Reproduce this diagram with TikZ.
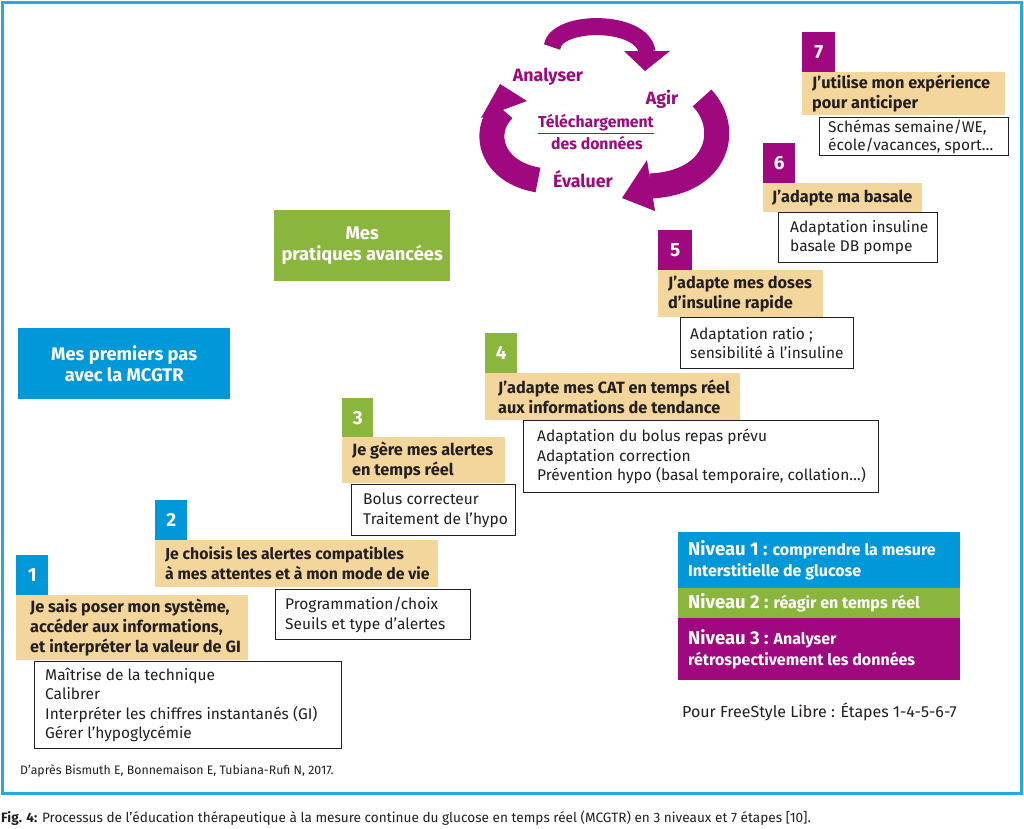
\documentclass[tikz,border=0pt]{standalone}
\usepackage{fontspec}
\setmainfont{Fira Sans}
\definecolor{cblue}{HTML}{0098D8}
\definecolor{cgreen}{HTML}{8BB63E}
\definecolor{cpurple}{HTML}{A0087F}
\definecolor{ctan}{HTML}{F2D69C}
\definecolor{ctext}{HTML}{231F20}
\definecolor{cframe}{HTML}{2AA7E0}
\begin{document}
\begin{tikzpicture}[x=1pt,y=-1pt,
  numbox/.style={anchor=north west, minimum width=33, minimum height=40, inner sep=0, text=white, font=\fontsize{19}{19}\selectfont\bfseries},
  tanbg/.style={anchor=north west, fill=ctan, inner sep=0},
  whitebg/.style={anchor=north west, fill=white, draw=ctext, line width=1.3, inner sep=0},
  tantext/.style={anchor=west, inner sep=0, align=left, text=ctext, font=\fontsize{16.3}{20}\selectfont\bfseries},
  whitetext/.style={anchor=west, inner sep=0, align=left, text=ctext, font=\fontsize{15.5}{19.5}\selectfont},
  bigbox/.style={anchor=north west, inner sep=0, align=center, text=white, font=\fontsize{18.3}{21.5}\selectfont\bfseries},
  legbg/.style={anchor=north west, inner sep=0, minimum width=282},
  legtext/.style={anchor=west, inner sep=0, align=left, text=white, font=\fontsize{16}{20.5}\selectfont\bfseries},
  cyctext/.style={text=cpurple, inner sep=0, font=\fontsize{17.8}{20}\selectfont\bfseries},
  cycsmall/.style={text=cpurple, inner sep=0, font=\fontsize{15.8}{18}\selectfont\bfseries},
  arrowbody/.style={draw=cpurple, line cap=butt},
  arrowhead/.style={fill=cpurple}
]
\useasboundingbox (0,0) rectangle (1024,828);
\fill[white] (0,0) rectangle (1024,828);
\draw[cframe, line width=3] (2,2) rectangle (1021,793);

% cycle
\draw[arrowbody, line width=17] (552,47) .. controls (556,19) and (643,19) .. (647,52);
\fill[arrowhead] (624,51) -- (670,51) -- (645,71) -- cycle;
\draw[arrowbody, line width=25] (702,98) .. controls (731,128) and (719,183) .. (650,186);
\fill[arrowhead] (647,160) -- (655,211) -- (622,198) -- cycle;
\draw[arrowbody, line width=25] (538,180) .. controls (491,172) and (481,132) .. (503,110);
\fill[arrowhead] (481,118) -- (527,101) -- (500,84) -- cycle;

\node[cyctext] (analyser) at (548,77) {Analyser};
\node[cyctext] (agir) at (662,99) {Agir};
\node[cycsmall] (tele) at (596,123) {Téléchargement};
\draw[cpurple, line width=1.2] ([yshift=-2]tele.south west) -- ([yshift=-2]tele.south east);
\node[cycsmall] (donnees) at (597,143) {des données};
\node[cyctext] (evaluer) at (583,179) {Évaluer};

% headline boxes
\node[bigbox, fill=cgreen, minimum width=176, minimum height=71] (avancees) at (274,210) {Mes\\pratiques avancées};
\node[bigbox, fill=cblue, minimum width=212, minimum height=71] (premiers) at (18,328) {Mes premiers pas\\avec la MCGTR};

% step 1
\node[numbox, fill=cblue, minimum width=32] (n1) at (16,555) {1};
\node[tanbg, minimum width=232, minimum height=65] (t1) at (16,595) {};
\node[tantext] (t1l) at ([xshift=14]t1.west) {Je sais poser mon système,\\accéder aux informations,\\et interpréter la valeur de GI};
\node[whitebg, minimum width=307, minimum height=87] (w1) at (34,661) {};
\node[whitetext] (w1l) at ([xshift=11]w1.west) {Maîtrise de la technique\\Calibrer\\Interpréter les chiffres instantanés (GI)\\Gérer l’hypoglycémie};

% step 2
\node[numbox, fill=cblue, minimum width=32] (n2) at (155,500) {2};
\node[tanbg, minimum width=283, minimum height=47] (t2) at (155,540) {};
\node[tantext, font=\fontsize{15.8}{20}\selectfont\bfseries] (t2l) at ([xshift=10]t2.west) {Je choisis les alertes compatibles\\à mes attentes et à mon mode de vie};
\node[whitebg, minimum width=195, minimum height=50] (w2) at (275,589) {};
\node[whitetext] (w2l) at ([xshift=10]w2.west) {Programmation/choix\\Seuils et type d’alertes};

% step 3
\node[numbox, fill=cgreen, minimum width=31, minimum height=39] (n3) at (342,398) {3};
\node[tanbg, minimum width=163, minimum height=46] (t3) at (342,437) {};
\node[tantext] (t3l) at ([xshift=10]t3.west) {Je gère mes alertes\\en temps réel};
\node[whitebg, minimum width=164, minimum height=51] (w3) at (351,484) {};
\node[whitetext] (w3l) at ([xshift=12]w3.west) {Bolus correcteur\\Traitement de l’hypo};

% step 4
\node[numbox, fill=cgreen, minimum width=32] (n4) at (485,333) {4};
\node[tanbg, minimum width=255, minimum height=47] (t4) at (485,373) {};
\node[tantext] (t4l) at ([xshift=13]t4.west) {J’adapte mes CAT en temps réel\\aux informations de tendance};
\node[whitebg, minimum width=355, minimum height=72] (w4) at (523,420) {};
\node[whitetext] (w4l) at ([xshift=14]w4.west) {Adaptation du bolus repas prévu\\Adaptation correction\\Prévention hypo (basal temporaire, collation…)};

% step 5
\node[numbox, fill=cpurple, minimum width=34] (n5) at (658,230) {5};
\node[tanbg, minimum width=165, minimum height=47] (t5) at (658,270) {};
\node[tantext] (t5l) at ([xshift=10]t5.west) {J’adapte mes doses\\d’insuline rapide};
\node[whitebg, minimum width=173, minimum height=51] (w5) at (680,317) {};
\node[whitetext] (w5l) at ([xshift=10]w5.west) {Adaptation ratio ;\\sensibilité à l’insuline};

% step 6
\node[numbox, fill=cpurple, minimum width=32] (n6) at (763,143) {6};
\node[tanbg, minimum width=159, minimum height=29] (t6) at (763,183) {};
\node[tantext] (t6l) at ([xshift=9]t6.west) {J’adapte ma basale};
\node[whitebg, minimum width=159, minimum height=50] (w6) at (778,212) {};
\node[whitetext] (w6l) at ([xshift=12]w6.west) {Adaptation insuline\\basale DB pompe};

% step 7
\node[numbox, fill=cpurple, minimum width=33] (n7) at (802,32) {7};
\node[tanbg, minimum width=203, minimum height=43] (t7) at (802,72) {};
\node[tantext] (t7l) at ([xshift=10]t7.west) {J’utilise mon expérience\\pour anticiper};
\node[whitebg, minimum width=189, minimum height=38] (w7) at (819,117) {};
\node[whitetext, font=\fontsize{15.5}{18}\selectfont] (w7l) at ([xshift=9]w7.west) {Schémas semaine/WE,\\école/vacances, sport…};

% legend
\node[legbg, fill=cblue, minimum height=56] (lv1) at (678,532) {};
\node[legtext] (lv1l) at ([xshift=10]lv1.west) {{\fontsize{18.5}{20.5}\selectfont Niveau 1 :} comprendre la mesure\\Interstitielle de glucose};
\node[legbg, fill=cgreen, minimum height=30] (lv2) at (678,588) {};
\node[legtext] (lv2l) at ([xshift=10]lv2.west) {{\fontsize{18.5}{20.5}\selectfont Niveau 2 :} réagir en temps réel};
\node[legbg, fill=cpurple, minimum height=62] (lv3) at (678,618) {};
\node[legtext] (lv3l) at ([xshift=10]lv3.west) {{\fontsize{18.5}{20.5}\selectfont Niveau 3 :} Analyser\\rétrospectivement les données};
\node[anchor=west, inner sep=0, text=ctext, font=\fontsize{16}{18}\selectfont] (freestyle) at (682,712) {Pour FreeStyle Libre : Étapes 1-4-5-6-7};

\node[anchor=west, inner sep=0, text=ctext, font=\fontsize{12.3}{15}\selectfont] (source) at (20,771) {D’après Bismuth E, Bonnemaison E, Tubiana-Rufi N, 2017.};

\node[anchor=west, inner sep=0, text=ctext, font=\fontsize{13.6}{15}\selectfont] (caption) at (1,818) {\textbf{Fig. 4:} Processus de l’éducation thérapeutique à la mesure continue du glucose en temps réel (MCGTR) en 3 niveaux et 7 étapes [10].};
\end{tikzpicture}
\end{document}
